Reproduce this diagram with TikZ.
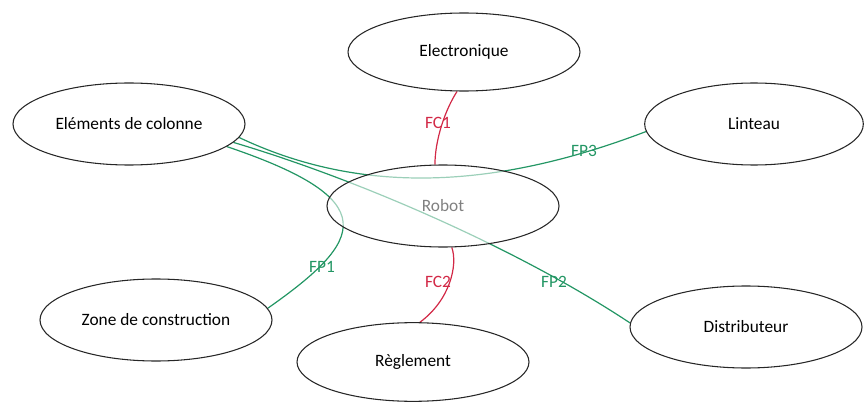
\documentclass[tikz,border=0pt]{standalone}
\usepackage{fontspec}
\setmainfont{Carlito}
\usetikzlibrary{shapes.geometric,backgrounds}
\definecolor{fpgreen}{RGB}{35,150,100}
\definecolor{fcred}{RGB}{210,40,70}
\begin{document}
\begin{tikzpicture}[x=.75pt,y=-.75pt,
thin,main node/.style={ellipse,draw=black!85,line width=.8pt,minimum width=174pt,minimum height=61.5pt,inner sep=0pt,font=\fontsize{13}{15}\selectfont},
fp/.style={draw=fpgreen,line width=.9pt},
fc/.style={draw=fcred,line width=.9pt},
fp label/.style={text=fpgreen,inner sep=0pt,font=\fontsize{13}{15}\selectfont},
fc label/.style={text=fcred,inner sep=0pt,font=\fontsize{13}{15}\selectfont}]
\useasboundingbox (0,0) rectangle (865,403);
\node[main node,minimum height=58.5pt] (elec) at (464,52) {Electronique};
\node[main node] (elem) at (129,124) {Eléments de colonne};
\node[main node,minimum width=164pt] (lint) at (754,124) {Linteau};
\node[main node,fill=white,fill opacity=.55,text opacity=1,text=gray] (robot) at (443,206) {Robot};
\node[main node] (zone) at (156,320) {Zone de construction};
\node[main node,minimum height=59pt] (regl) at (413,362) {Règlement};
\node[main node] (dist) at (746,327) {Distributeur};

\begin{scope}[on background layer]
\draw [fc] (elec.260) .. controls (445,110) and (435,140) .. (robot.101);
\draw [fc] (robot.282) .. controls (458,265) and (450,300) .. (regl.80);
\draw [fp] (elem.-7) .. controls (350,190) and (480,195) .. (lint.184);
\draw [fp] (elem.-10) .. controls (360,180) and (520,250) .. (dist.178);
\draw [fp] (elem.-13) .. controls (385,200) and (365,240) .. (zone.6);
\end{scope}

\node[fc label] (fc1) at (438,123) {FC1};
\node[fc label] (fc2) at (438,282) {FC2};
\node[fp label] (fp1) at (322,267) {FP1};
\node[fp label] (fp2) at (554,282) {FP2};
\node[fp label] (fp3) at (584,151) {FP3};
\end{tikzpicture}
\end{document}
